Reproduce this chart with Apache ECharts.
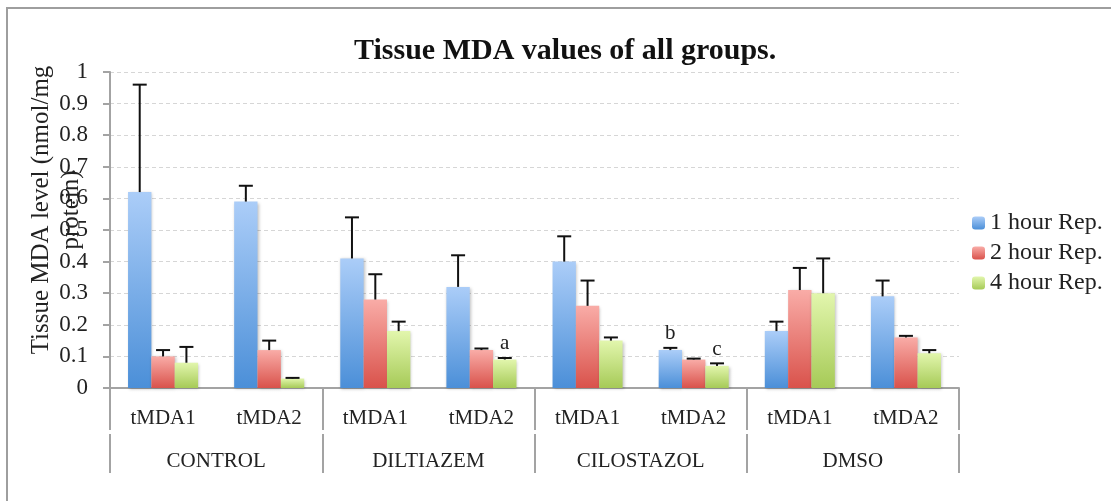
<!DOCTYPE html>
<html>
<head>
<meta charset="utf-8">
<script src="https://cdn.jsdelivr.net/npm/echarts@6/dist/echarts.min.js"></script>
<style>
html,body{margin:0;padding:0;background:#fff;}
#c{width:1111px;height:501px;}
</style>
</head>
<body>
<div id="c"></div>
<script>
// ---- data ----
var groups = ['CONTROL', 'DILTIAZEM', 'CILOSTAZOL', 'DMSO'];
var subCats = ['tMDA1', 'tMDA2', 'tMDA1', 'tMDA2', 'tMDA1', 'tMDA2', 'tMDA1', 'tMDA2'];
var seriesNames = ['1 hour Rep.', '2 hour Rep.', '4 hour Rep.'];
var hour1 = [0.62, 0.59, 0.41, 0.32, 0.40, 0.12, 0.18, 0.29];
var hour2 = [0.10, 0.12, 0.28, 0.12, 0.26, 0.09, 0.31, 0.16];
var hour4 = [0.08, 0.03, 0.18, 0.09, 0.15, 0.07, 0.30, 0.11];
var err1 = [0.34, 0.05, 0.13, 0.10, 0.08, 0.007, 0.03, 0.05];
var err2 = [0.02, 0.03, 0.08, 0.005, 0.08, 0.003, 0.07, 0.005];
var err4 = [0.05, 0.002, 0.03, 0.005, 0.01, 0.008, 0.11, 0.01];
// significance letters: [category index, series index, text]
var letters = [[3, 2, 'a'], [5, 0, 'b'], [5, 2, 'c']];
var yTicks = [0, 0.1, 0.2, 0.3, 0.4, 0.5, 0.6, 0.7, 0.8, 0.9, 1];

// ---- styles ----
var FONT = '"Liberation Serif", "Times New Roman", serif';
var AXIS_GREY = '#a3a3a3';
var CAT_GAP = 0.34;
var palettes = [
  ['#abcdf8', '#4b8fd8'],
  ['#f9aca7', '#d9524b'],
  ['#e2f6ad', '#a6ca57']
];
var means = [hour1, hour2, hour4];
var errs = [err1, err2, err4];

function grad(p) {
  return new echarts.graphic.LinearGradient(0, 0, 0, 1, [
    {offset: 0, color: p[0]}, {offset: 1, color: p[1]}
  ]);
}

var series = [];
means.forEach(function (arr, s) {
  var data = arr.map(function (v, i) {
    var item = {value: v};
    letters.forEach(function (L) {
      if (L[0] === i && L[1] === s) {
        item.label = {show: true, position: 'top', distance: 6, formatter: L[2],
          fontFamily: FONT, fontSize: 21, color: '#222'};
      }
    });
    return item;
  });
  series.push({
    name: seriesNames[s],
    type: 'bar',
    xAxisIndex: 0,
    barGap: '0%',
    barCategoryGap: (CAT_GAP * 100) + '%',
    itemStyle: {color: grad(palettes[s]), shadowBlur: 3, shadowColor: 'rgba(0,0,0,0.25)',
      shadowOffsetX: 1, shadowOffsetY: 1},
    data: data,
    z: 2
  });
});

means.forEach(function (arr, s) {
  series.push({
    type: 'custom',
    xAxisIndex: 0,
    yAxisIndex: 0,
    z: 5,
    silent: true,
    data: arr.map(function (v, i) { return [i, v, v + errs[s][i]]; }),
    renderItem: function (params, api) {
      var i = api.value(0);
      var base = api.coord([i, api.value(1)]);
      var top = api.coord([i, api.value(2)]);
      var band = api.size([1, 0])[0];
      var bw = band * (1 - CAT_GAP) / 3;
      var x = base[0] + (s - 1) * bw;
      var cap = 7;
      var st = {stroke: '#111', lineWidth: 2};
      return {
        type: 'group',
        children: [
          {type: 'line', shape: {x1: x, y1: base[1], x2: x, y2: top[1]}, style: st},
          {type: 'line', shape: {x1: x - cap, y1: top[1], x2: x + cap, y2: top[1]}, style: st}
        ]
      };
    }
  });
});

var chart = echarts.init(document.getElementById('c'));
chart.setOption({
  animation: false,
  backgroundColor: '#fff',
  title: {
    text: 'Tissue MDA values of all groups.',
    left: 349,
    top: 31,
    textStyle: {fontFamily: FONT, fontSize: 30, fontWeight: 'bold', color: '#111'}
  },
  graphic: [{
    type: 'rect', shape: {x: 7, y: 8, width: 1200, height: 600},
    style: {fill: 'none', stroke: '#9e9e9e', lineWidth: 2}, silent: true, z: -10
  }],
  legend: {
    orient: 'vertical',
    left: 967,
    top: 206,
    itemWidth: 13,
    itemHeight: 13,
    itemGap: 6,
    data: seriesNames,
    textStyle: {fontFamily: FONT, fontSize: 24, color: '#222'}
  },
  grid: {left: 110, right: 152, top: 72, bottom: 113, containLabel: false, outerBoundsMode: 'none'},
  xAxis: [{
    type: 'category',
    data: subCats,
    position: 'bottom',
    axisLine: {lineStyle: {color: AXIS_GREY, width: 2}},
    axisTick: {show: false},
    axisLabel: {interval: 0, margin: 20, fontFamily: FONT, fontSize: 21, color: '#222'}
  }, {
    type: 'category',
    data: groups,
    position: 'bottom',
    offset: 0,
    axisLine: {show: false},
    axisTick: {show: true, length: 42, lineStyle: {color: AXIS_GREY, width: 2}},
    axisLabel: {show: false}
  }, {
    type: 'category',
    data: groups,
    position: 'bottom',
    offset: 46,
    axisLine: {show: false},
    axisTick: {show: true, length: 39, lineStyle: {color: AXIS_GREY, width: 2}},
    axisLabel: {interval: 0, margin: 17, fontFamily: FONT, fontSize: 21, color: '#222'}
  }],
  yAxis: {
    type: 'value',
    min: yTicks[0],
    max: yTicks[yTicks.length - 1],
    interval: 0.1,
    name: 'Tissue MDA level (nmol/mg\nprotein)',
    nameLocation: 'middle',
    nameRotate: 90,
    nameGap: 24,
    nameMoveOverlap: false,
    nameTextStyle: {fontFamily: FONT, fontSize: 25, lineHeight: 30, color: '#222', padding: [0, 0, 0, 40]},
    axisLine: {show: true, lineStyle: {color: AXIS_GREY, width: 2}},
    axisTick: {show: true, length: 7, lineStyle: {color: AXIS_GREY, width: 2}},
    axisLabel: {margin: 22, fontFamily: FONT, fontSize: 23, color: '#222',
      formatter: function (v) { return String(Math.round(v * 10) / 10); }},
    splitLine: {show: true, lineStyle: {color: '#d6d6d6', type: [4, 3], width: 1}}
  },
  series: series
});
</script>
</body>
</html>
